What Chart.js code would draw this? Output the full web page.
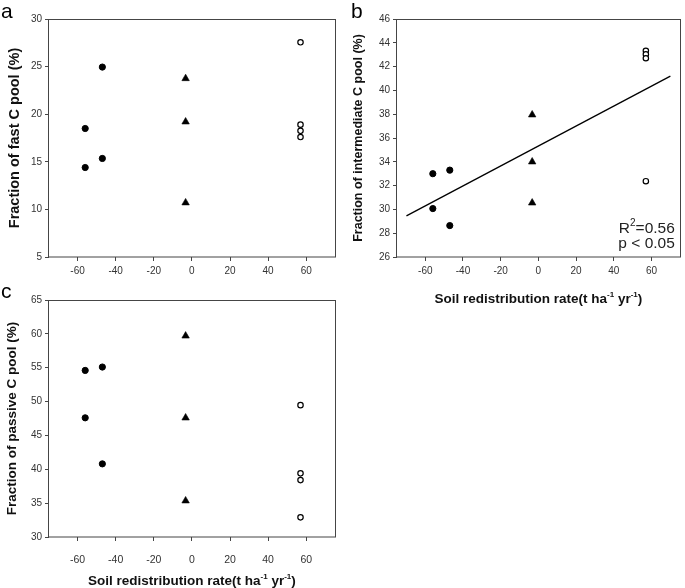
<!DOCTYPE html>
<html>
<head>
<meta charset="utf-8">
<script src="https://cdn.jsdelivr.net/npm/chart.js@4.4.1/dist/chart.umd.min.js"></script>
<style>
  html, body { margin:0; padding:0; background:#fff; overflow:hidden; width:685px; height:588px; }
  canvas { position:absolute; }
</style>
</head>
<body>
<canvas id="panel-a" width="340" height="290" style="left:0;top:0"></canvas>
<canvas id="panel-b" width="340" height="310" style="left:345px;top:0"></canvas>
<canvas id="panel-c" width="340" height="310" style="left:0;top:280px"></canvas>
<script>
// values
const xTicks = [-60, -40, -20, 0, 20, 40, 60];
const yTicksA = [5, 10, 15, 20, 25, 30];
const yTicksB = [26, 28, 30, 32, 34, 36, 38, 40, 42, 44, 46];
const yTicksC = [30, 35, 40, 45, 50, 55, 60, 65];

// soil redistribution rate of each sample group
const xFilled = [-56, -56, -47, -47];
const xTriangle = [-3.3, -3.3, -3.3];
const xOpen = [57, 57, 57, 57];

const fastFilled = [18.5, 14.4, 24.95, 15.35];
const fastTriangle = [23.75, 19.2, 10.7];
const fastOpen = [27.55, 18.9, 18.25, 17.6];

const interFilled = [33.0, 30.07, 33.3, 28.64];
const interTriangle = [37.95, 34.0, 30.55];
const interOpen = [43.33, 43.03, 42.7, 32.37];

const passiveFilled = [54.6, 47.6, 55.1, 40.8];
const passiveTriangle = [59.7, 47.6, 35.35];
const passiveOpen = [49.47, 39.4, 38.4, 32.9];

// fitted line in panel b
const fitX = [-70, 70];
const fitY = [29.45, 41.2];

const FONT = "'Liberation Sans', Arial, Helvetica, sans-serif";
const AXIS = '#454545';

function pts(xs, ys){ return xs.map((x, i) => ({ x: x, y: ys[i] })); }

// text with superscripts, drawn piece by piece
function drawRich(ctx, parts, x, y, size, weight, align){
    const big = weight + ' ' + size + 'px ' + FONT;
    const small = weight + ' ' + Math.round(size * 0.62) + 'px ' + FONT;
    let w = 0;
    parts.forEach(p => { ctx.font = p.sup ? small : big; w += ctx.measureText(p.t).width; });
    let cx = align === 'center' ? x - w / 2 : (align === 'right' ? x - w : x);
    ctx.textAlign = 'left';
    ctx.textBaseline = 'alphabetic';
    parts.forEach(p => {
        ctx.font = p.sup ? small : big;
        ctx.fillText(p.t, cx, p.sup ? y - size * 0.42 : y);
        cx += ctx.measureText(p.t).width;
    });
}

const decor = {
    id: 'decor',
    afterDraw(chart, args, opts){
        const ctx = chart.ctx;
        const a = chart.chartArea;
        ctx.save();
        ctx.strokeStyle = AXIS;
        ctx.lineWidth = 1;
        ctx.strokeRect(Math.round(a.left) - 0.5, Math.round(a.top) + 0.5,
                       Math.round(a.right) - Math.round(a.left) + 1, Math.round(a.bottom) - Math.round(a.top) - 0.5);
        ctx.fillStyle = '#000';
        ctx.font = '21px ' + FONT;
        ctx.textAlign = 'left';
        ctx.textBaseline = 'alphabetic';
        ctx.fillText(opts.letter, opts.lx, opts.ly);
        if (opts.xTitle) {
            ctx.fillStyle = '#111';
            drawRich(ctx, [
                { t: 'Soil redistribution rate(t ha' }, { t: '-1', sup: true },
                { t: ' yr' }, { t: '-1', sup: true }, { t: ')' }
            ], (a.left + a.right) / 2, opts.xTitleY, 13.5, 'bold', 'center');
        }
        if (opts.stats) {
            ctx.fillStyle = '#222';
            drawRich(ctx, [{ t: 'R' }, { t: '2', sup: true }, { t: '=0.56' }], a.right - 5, a.bottom - 24, 15.5, 'normal', 'right');
            drawRich(ctx, [{ t: 'p < 0.05' }], a.right - 5, a.bottom - 9, 15.5, 'normal', 'right');
        }
        ctx.restore();
    }
};

function scatterSets(filled, tri, open){
    return [
        { data: pts(xFilled, filled), pointStyle: 'circle', pointRadius: 3.1, borderWidth: 1,
          backgroundColor: '#000', borderColor: '#000' },
        { data: pts(xTriangle, tri), pointStyle: 'triangle', pointRadius: 4.3, borderWidth: 0.6,
          backgroundColor: '#000', borderColor: '#000' },
        { data: pts(xOpen, open), pointStyle: 'circle', pointRadius: 2.7, borderWidth: 1.2,
          backgroundColor: '#fff', borderColor: '#000' }
    ];
}

function makePanel(id, c){
    const datasets = scatterSets(c.filled, c.tri, c.open);
    if (c.fit) {
        datasets.unshift({ type: 'line', data: pts(fitX, fitY), borderColor: '#000', borderWidth: 1.3,
                           pointRadius: 0, fill: false, tension: 0 });
    }
    return new Chart(document.getElementById(id), {
        type: 'scatter',
        data: { datasets: datasets },
        options: {
            responsive: false,
            animation: false,
            events: [],
            layout: { padding: { left: 0, top: c.top, right: c.right, bottom: 0 } },
            plugins: {
                legend: { display: false },
                tooltip: { enabled: false },
                decor: c.decor
            },
            scales: {
                x: {
                    type: 'linear', min: -75, max: 75,
                    afterBuildTicks: s => { s.ticks = xTicks.map(v => ({ value: v })); },
                    afterFit: s => { s.height = c.xHeight; },
                    ticks: { font: { family: FONT, size: c.xTickSize }, color: '#333', padding: c.xPad,
                             maxRotation: 0, autoSkip: false, callback: v => String(v) },
                    grid: { drawOnChartArea: false, drawTicks: true, tickLength: 4, color: AXIS },
                    border: { display: false }
                },
                y: {
                    type: 'linear', min: c.yTicks[0], max: c.yTicks[c.yTicks.length - 1],
                    afterBuildTicks: s => { s.ticks = c.yTicks.map(v => ({ value: v })); },
                    afterFit: s => { s.width = c.yWidth; },
                    ticks: { font: { family: FONT, size: 10 }, color: '#333', padding: 3,
                             autoSkip: false, callback: v => String(v) },
                    grid: { drawOnChartArea: false, drawTicks: true, tickLength: 4, color: AXIS },
                    border: { display: false },
                    title: { display: true, text: c.yTitle, color: '#111',
                             font: { family: FONT, size: c.yTitleSize, weight: 'bold' },
                             padding: { top: c.yTitlePad, bottom: 0 } }
                }
            }
        },
        plugins: [decor]
    });
}

makePanel('panel-a', {
    filled: fastFilled, tri: fastTriangle, open: fastOpen, yTicks: yTicksA,
    top: 19, right: 5, xHeight: 33, yWidth: 49, xTickSize: 10, xPad: 4,
    yTitle: 'Fraction of fast C pool (%)', yTitleSize: 14.5, yTitlePad: 6,
    decor: { letter: 'a', lx: 1, ly: 18 }
});

makePanel('panel-b', {
    filled: interFilled, tri: interTriangle, open: interOpen, yTicks: yTicksB, fit: true,
    top: 19, right: 3, xHeight: 53, yWidth: 52, xTickSize: 10, xPad: 4,
    yTitle: 'Fraction of intermediate C pool (%)', yTitleSize: 12.5, yTitlePad: 6.5,
    decor: { letter: 'b', lx: 6, ly: 18, xTitle: true, xTitleY: 303, stats: true }
});

makePanel('panel-c', {
    filled: passiveFilled, tri: passiveTriangle, open: passiveOpen, yTicks: yTicksC,
    top: 20, right: 5, xHeight: 53, yWidth: 49, xTickSize: 10.5, xPad: 13,
    yTitle: 'Fraction of passive C pool (%)', yTitleSize: 13.5, yTitlePad: 4.5,
    decor: { letter: 'c', lx: 1, ly: 18, xTitle: true, xTitleY: 305 }
});
</script>
</body>
</html>
